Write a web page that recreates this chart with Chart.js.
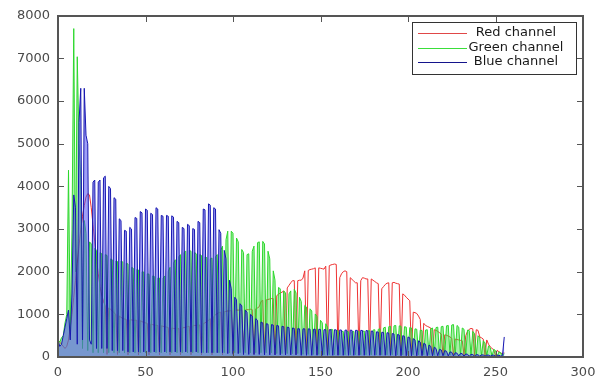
<!DOCTYPE html>
<html>
<head>
<meta charset="utf-8">
<script src="https://cdn.jsdelivr.net/npm/chart.js@4.4.1/dist/chart.umd.min.js"></script>
<style>
  html, body { margin: 0; padding: 0; background: #fff; }
  #wrap { width: 607px; height: 379px; position: relative; }
</style>
</head>
<body>
<div id="wrap"><canvas id="hist"></canvas></div>
<script>
// histogram bins (intensity levels 0..255)
const bins = Array.from({ length: 256 }, (_, i) => i);

const red = [
  400, 350, 300, 250, 200, 250, 400, 700, 1000, 1400, 1800, 2200, 2600, 3000, 3300, 3550,
  3750, 3830, 3800, 3500, 3100, 2700, 2300, 1950, 1650, 1450, 1300, 1200, 60, 1150, 1120, 1080,
  1040, 1000, 60, 960, 930, 900, 890, 880, 50, 870, 870, 860, 860, 860, 50, 850,
  830, 810, 800, 790, 50, 770, 760, 750, 740, 740, 50, 730, 720, 710, 700, 690,
  50, 680, 670, 665, 665, 670, 50, 680, 690, 700, 710, 720, 50, 730, 740, 740,
  745, 750, 50, 780, 800, 830, 860, 900, 50, 950, 990, 1020, 1040, 1050, 50, 1060,
  1070, 1080, 1080, 1090, 50, 1090, 1100, 1100, 1100, 1100, 50, 1100, 1110, 1110, 1120, 1110,
  50, 1130, 1150, 1180, 1300, 1330, 50, 1340, 1350, 1360, 1370, 1370, 50, 1440, 1470, 1500,
  1520, 1550, 50, 1620, 1680, 1740, 1790, 1790, 50, 1790, 1800, 1800, 1850, 2020, 50, 2030,
  2050, 2060, 2070, 2090, 50, 2090, 2080, 2070, 2060, 2130, 50, 2140, 2160, 2170, 2180, 2170,
  50, 1860, 1950, 2000, 2020, 2000, 50, 1860, 1820, 1780, 1740, 1740, 50, 1790, 1860, 1850,
  1830, 1830, 50, 1830, 1800, 1770, 1740, 1720, 50, 1600, 1650, 1700, 1730, 1740, 50, 1740,
  1750, 1730, 1720, 1710, 50, 1480, 1450, 1400, 1360, 1320, 50, 1050, 1040, 1020, 960, 880,
  50, 790, 740, 720, 700, 680, 50, 640, 625, 600, 570, 540, 40, 520, 510, 490,
  470, 440, 40, 420, 410, 400, 390, 380, 40, 500, 600, 650, 670, 660, 30, 640,
  625, 470, 450, 420, 30, 400, 300, 240, 200, 170, 30, 160, 120, 90, 80, 100
];

const green = [
  400, 350, 450, 500, 800, 1000, 4380, 600, 3000, 7700, 2000, 7040, 5000, 4200, 200, 3200,
  2900, 150, 2700, 2650, 100, 2550, 2500, 100, 2450, 2420, 100, 2400, 2380, 100, 2300, 2280,
  100, 2250, 2240, 100, 2250, 2230, 100, 2200, 2180, 100, 2100, 2080, 100, 2050, 2040, 100,
  2000, 1990, 100, 1950, 1940, 100, 1900, 1890, 100, 1850, 1850, 100, 1850, 1900, 100, 2000,
  2100, 100, 2200, 2280, 100, 2350, 2400, 100, 2450, 2480, 100, 2500, 2480, 100, 2450, 2420,
  100, 2400, 2380, 100, 2350, 2330, 100, 2300, 2320, 100, 2350, 2400, 100, 2500, 2600, 100,
  2750, 2950, 100, 2950, 2900, 100, 2790, 2700, 100, 2520, 2450, 100, 2400, 2420, 100, 2480,
  2600, 100, 2680, 2700, 100, 2710, 2650, 100, 2480, 2300, 100, 2020, 1800, 80, 1630, 1600,
  80, 1550, 1500, 80, 1480, 1550, 80, 1590, 1500, 80, 1400, 1300, 60, 1210, 1170, 60,
  1130, 1080, 60, 1010, 950, 60, 860, 800, 50, 780, 700, 50, 650, 640, 50, 620,
  610, 50, 600, 600, 50, 600, 590, 50, 590, 600, 50, 600, 600, 50, 600, 610,
  50, 610, 620, 50, 630, 640, 50, 650, 660, 50, 680, 700, 50, 710, 720, 50,
  730, 740, 50, 730, 720, 50, 710, 700, 50, 690, 680, 50, 660, 650, 50, 630,
  620, 50, 630, 640, 50, 660, 680, 40, 690, 700, 40, 710, 720, 40, 730, 740,
  40, 750, 760, 40, 740, 700, 40, 680, 650, 40, 630, 620, 30, 600, 550, 30,
  500, 450, 30, 380, 330, 30, 260, 220, 20, 180, 150, 20, 120, 100, 20, 80
];

const blue = [
  400, 250, 300, 500, 700, 900, 1100, 400, 1500, 3800, 3500, 300, 5500, 6300, 400, 6300,
  5200, 5000, 400, 300, 4100, 4150, 200, 4100, 4150, 200, 4200, 4240, 200, 4000, 3950, 150,
  3735, 3700, 150, 3240, 3200, 150, 2970, 2950, 120, 3040, 3000, 120, 3270, 3250, 120, 3410,
  3380, 120, 3470, 3440, 120, 3370, 3340, 120, 3500, 3470, 120, 3320, 3300, 120, 3320, 3300,
  120, 3310, 3280, 120, 3180, 3150, 120, 3040, 3010, 120, 3110, 3080, 120, 3010, 2990, 120,
  3180, 3150, 100, 3470, 3450, 100, 3590, 3560, 100, 3500, 3470, 100, 2985, 2900, 100, 2500,
  2300, 80, 1800, 1600, 80, 1400, 1350, 80, 1250, 1200, 60, 1100, 1050, 60, 1000, 960,
  60, 900, 860, 60, 820, 800, 50, 780, 770, 50, 760, 750, 50, 740, 730, 50,
  720, 710, 50, 700, 690, 50, 680, 670, 50, 665, 660, 40, 660, 660, 40, 660,
  655, 40, 650, 650, 40, 650, 645, 40, 640, 640, 40, 640, 640, 40, 640, 635,
  40, 635, 630, 40, 630, 630, 40, 630, 625, 40, 625, 625, 40, 625, 620, 40,
  620, 615, 40, 610, 600, 40, 590, 585, 40, 580, 575, 40, 570, 560, 40, 550,
  540, 30, 530, 515, 30, 500, 485, 30, 470, 450, 30, 430, 400, 30, 380, 350,
  30, 320, 300, 30, 280, 250, 30, 230, 200, 30, 180, 165, 30, 150, 135, 25,
  120, 110, 25, 100, 90, 25, 85, 78, 20, 70, 65, 20, 60, 58, 20, 55,
  52, 20, 50, 48, 20, 45, 45, 20, 45, 42, 20, 40, 40, 20, 40, 470
];

const xTicks = [0, 50, 100, 150, 200, 250, 300];
const yTicks = [0, 1000, 2000, 3000, 4000, 5000, 6000, 7000, 8000];

const FONT = "'DejaVu Sans', sans-serif";
const AXIS = '#555555';

// axes box with inward ticks + legend inside the axes
const boxPlugin = {
  id: 'box',
  afterDraw(chart) {
    const ctx = chart.ctx;
    const a = chart.chartArea;
    const xs = chart.scales.x, ys = chart.scales.y;
    const L = Math.round(a.left), R = Math.round(a.right);
    const T = Math.round(a.top), B = Math.round(a.bottom);
    ctx.save();
    ctx.fillStyle = AXIS;
    ctx.fillRect(L - 1, T - 1, R - L + 2, 2);
    ctx.fillRect(L - 1, B - 1, R - L + 2, 2);
    ctx.fillRect(L - 1, T - 1, 2, B - T + 2);
    ctx.fillRect(R - 1, T - 1, 2, B - T + 2);
    xTicks.forEach(t => {
      const x = Math.round(xs.getPixelForValue(t));
      ctx.fillRect(x, B - 6, 1, 6);
      ctx.fillRect(x, T, 1, 6);
    });
    yTicks.forEach(t => {
      const y = Math.round(ys.getPixelForValue(t));
      ctx.fillRect(L, y, 6, 1);
      ctx.fillRect(R - 6, y, 6, 1);
    });

    // legend
    const names = ['Red channel', 'Green channel', 'Blue channel'];
    const cols = ['#e04848', '#3ade3a', '#14148c'];
    const bx = 412, by = 22, bw = 164, bh = 52;
    ctx.fillStyle = '#fff';
    ctx.fillRect(bx, by, bw, bh);
    ctx.fillStyle = '#333';
    ctx.fillRect(bx, by, bw, 1);
    ctx.fillRect(bx, by + bh, bw + 1, 1);
    ctx.fillRect(bx, by, 1, bh);
    ctx.fillRect(bx + bw, by, 1, bh);
    ctx.font = '13px ' + FONT;
    ctx.textAlign = 'center';
    ctx.textBaseline = 'middle';
    names.forEach((n, i) => {
      const y = Math.round(33 + i * 14.7);
      ctx.fillStyle = cols[i];
      ctx.fillRect(418, y, 49, 1);
      ctx.fillStyle = '#1a1a1a';
      ctx.fillText(n, 516, y);
    });
    ctx.restore();
  }
};

const toPts = arr => bins.map((b, i) => ({ x: b, y: arr[i] }));
const plain = v => String(v);
const tickFont = { family: FONT, size: 13 };

new Chart(document.getElementById('hist'), {
  type: 'line',
  data: {
    datasets: [
      { label: 'Red channel', data: toPts(red), borderColor: '#ee3333', order: 3, fill: false },
      { label: 'Green channel', data: toPts(green), borderColor: '#2ed82e',
        backgroundColor: 'rgba(60,220,60,0.45)', fill: 'origin', order: 2 },
      { label: 'Blue channel', data: toPts(blue), borderColor: '#1818b0',
        backgroundColor: 'rgba(80,80,240,0.55)', fill: 'origin', order: 1 }
    ]
  },
  options: {
    responsive: true,
    maintainAspectRatio: false,
    animation: false,
    layout: { padding: { top: 12, right: 24 } },
    elements: {
      point: { radius: 0 },
      line: { borderWidth: 1, tension: 0 }
    },
    plugins: {
      legend: { display: false },
      tooltip: { enabled: false },
      filler: { propagate: false }
    },
    scales: {
      x: {
        type: 'linear', position: 'bottom',
        min: 0, max: 300,
        grid: { display: false, drawTicks: false },
        border: { display: false },
        ticks: { stepSize: 50, padding: 8, color: '#4a4a4a', font: tickFont, maxRotation: 0, callback: plain },
        afterFit: s => { s.height = 22; }
      },
      y: {
        position: 'left',
        min: 0, max: 8000,
        grid: { display: false, drawTicks: false },
        border: { display: false },
        ticks: { stepSize: 1000, padding: 8, color: '#4a4a4a', font: tickFont, callback: plain },
        afterFit: s => { s.width = 58; }
      }
    }
  },
  plugins: [boxPlugin]
});
</script>
</body>
</html>
